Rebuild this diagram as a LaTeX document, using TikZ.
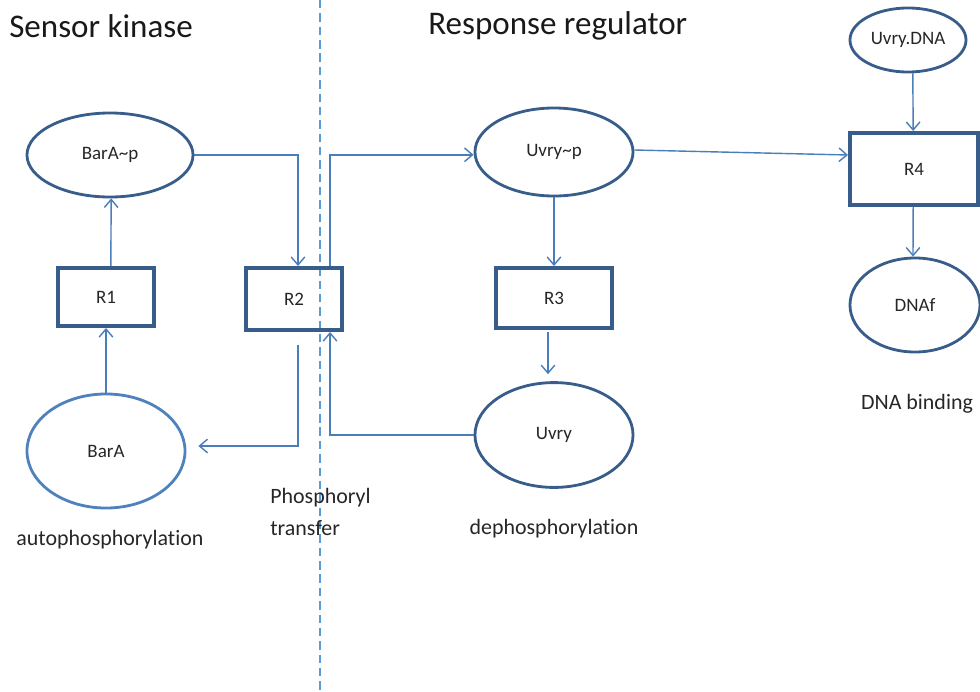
\documentclass[tikz,border=0pt]{standalone}
\usepackage{fontspec}
\setmainfont{Carlito}[Ligatures=NoCommon]
\usetikzlibrary{shapes.geometric,arrows.meta}
\definecolor{darkblue}{HTML}{385D8A}
\definecolor{lineblue}{HTML}{4A7EBB}
\definecolor{lightblue}{HTML}{4F81BD}
\definecolor{dashblue}{HTML}{5B9BD5}
\tikzstyle{species} = [ellipse, draw=darkblue, line width=2pt, inner sep=0pt,
font=\fontsize{13.5}{16}\selectfont, text=black!85]
\tikzstyle{reaction} = [rectangle, draw=darkblue, line width=2.8pt, inner sep=0pt,
font=\fontsize{13.5}{16}\selectfont, text=black!85]
\tikzstyle{heading} = [anchor=west, inner sep=0pt, font=\fontsize{23.5}{28}\selectfont, text=black!90]
\tikzstyle{remark} = [inner sep=0pt, font=\fontsize{15.6}{21}\selectfont, text=black!85]
\tikzstyle{arrow} = [draw=lineblue, line width=1pt, ->, >={Straight Barb[length=2mm,width=3.4mm]}]

\begin{document}
\begin{tikzpicture}[x=0.025cm, y=-0.025cm]
\useasboundingbox (0,0) rectangle (980,691);
\node (sk)[heading] at (9,26) {Sensor kinase};
\node (rr)[heading] at (428,26) {Response regulator};
\coordinate (top) at (320,0);
\coordinate (bot) at (320,691);
\draw [dashblue, line width=1pt, dash pattern=on 6pt off 3.5pt](top) -- (bot);

\node (barap)[species, minimum width=4.15cm, minimum height=2.1cm] at (110,155) {BarA\textasciitilde p};
\node (r1)[reaction, minimum width=2.42cm, minimum height=1.45cm] at (106,297) {R1};
\node (r2)[reaction, minimum width=2.4cm, minimum height=1.55cm] at (294,299) {R2};
\node (bara)[species, draw=lightblue, minimum width=3.95cm, minimum height=2.85cm] at (106,451) {BarA};
\node (uvryp)[species, minimum width=3.95cm, minimum height=2.2cm] at (554,152) {\raisebox{-0.2cm}{Uvry\textasciitilde p}};
\node (r3)[reaction, minimum width=2.9cm, minimum height=1.5cm] at (554,298) {R3};
\node (uvry)[species, minimum width=3.95cm, minimum height=2.62cm] at (554,435) {Uvry};
\node (uvrydna)[species, minimum width=2.9cm, minimum height=1.6cm] at (908,40) {Uvry.DNA};
\node (r4)[reaction, minimum width=3.2cm, minimum height=1.8cm] at (914,169) {R4};
\node (dnaf)[species, minimum width=3.25cm, minimum height=2.35cm] at (915,305) {DNAf};

\node (auto)[remark] at (110,540) {autophosphorylation};
\node (phos)[remark, align=left, anchor=west] at (270,512) {Phosphoryl\\[2pt]transfer};
\node (deph)[remark] at (554,529) {dephosphorylation};
\node (bind)[remark] at (917,404) {DNA binding};

\draw [arrow](bara) -- (r1);
\draw [arrow]([xshift=0.12cm]r1.north) -- ([xshift=0.03cm]barap.south);
\draw [arrow](barap.east) -| ([xshift=0.1cm]r2.north);
\draw [arrow]([shift={(4,13)}]r2.south) |- ([shift={(12,-5)}]bara.east);
\draw [arrow](uvry.west) -| ([xshift=0.9cm]r2.south);
\draw [arrow]([xshift=0.9cm]r2.north) |- ([yshift=-0.07cm]uvryp.west);
\draw [arrow](uvryp) -- (r3);
\draw [arrow]([shift={(-6,2)}]r3.south) -- ([shift={(-6,-7)}]uvry.north);
\draw [arrow]([yshift=0.05cm]uvryp.east) -- ([yshift=0.35cm]r4.west);
\draw [arrow]([xshift=0.12cm]uvrydna.south) -- ([xshift=-0.02cm]r4.north);
\draw [arrow]([xshift=-0.02cm]r4.south) -- ([xshift=-0.05cm]dnaf.north);
\end{tikzpicture}
\end{document}
